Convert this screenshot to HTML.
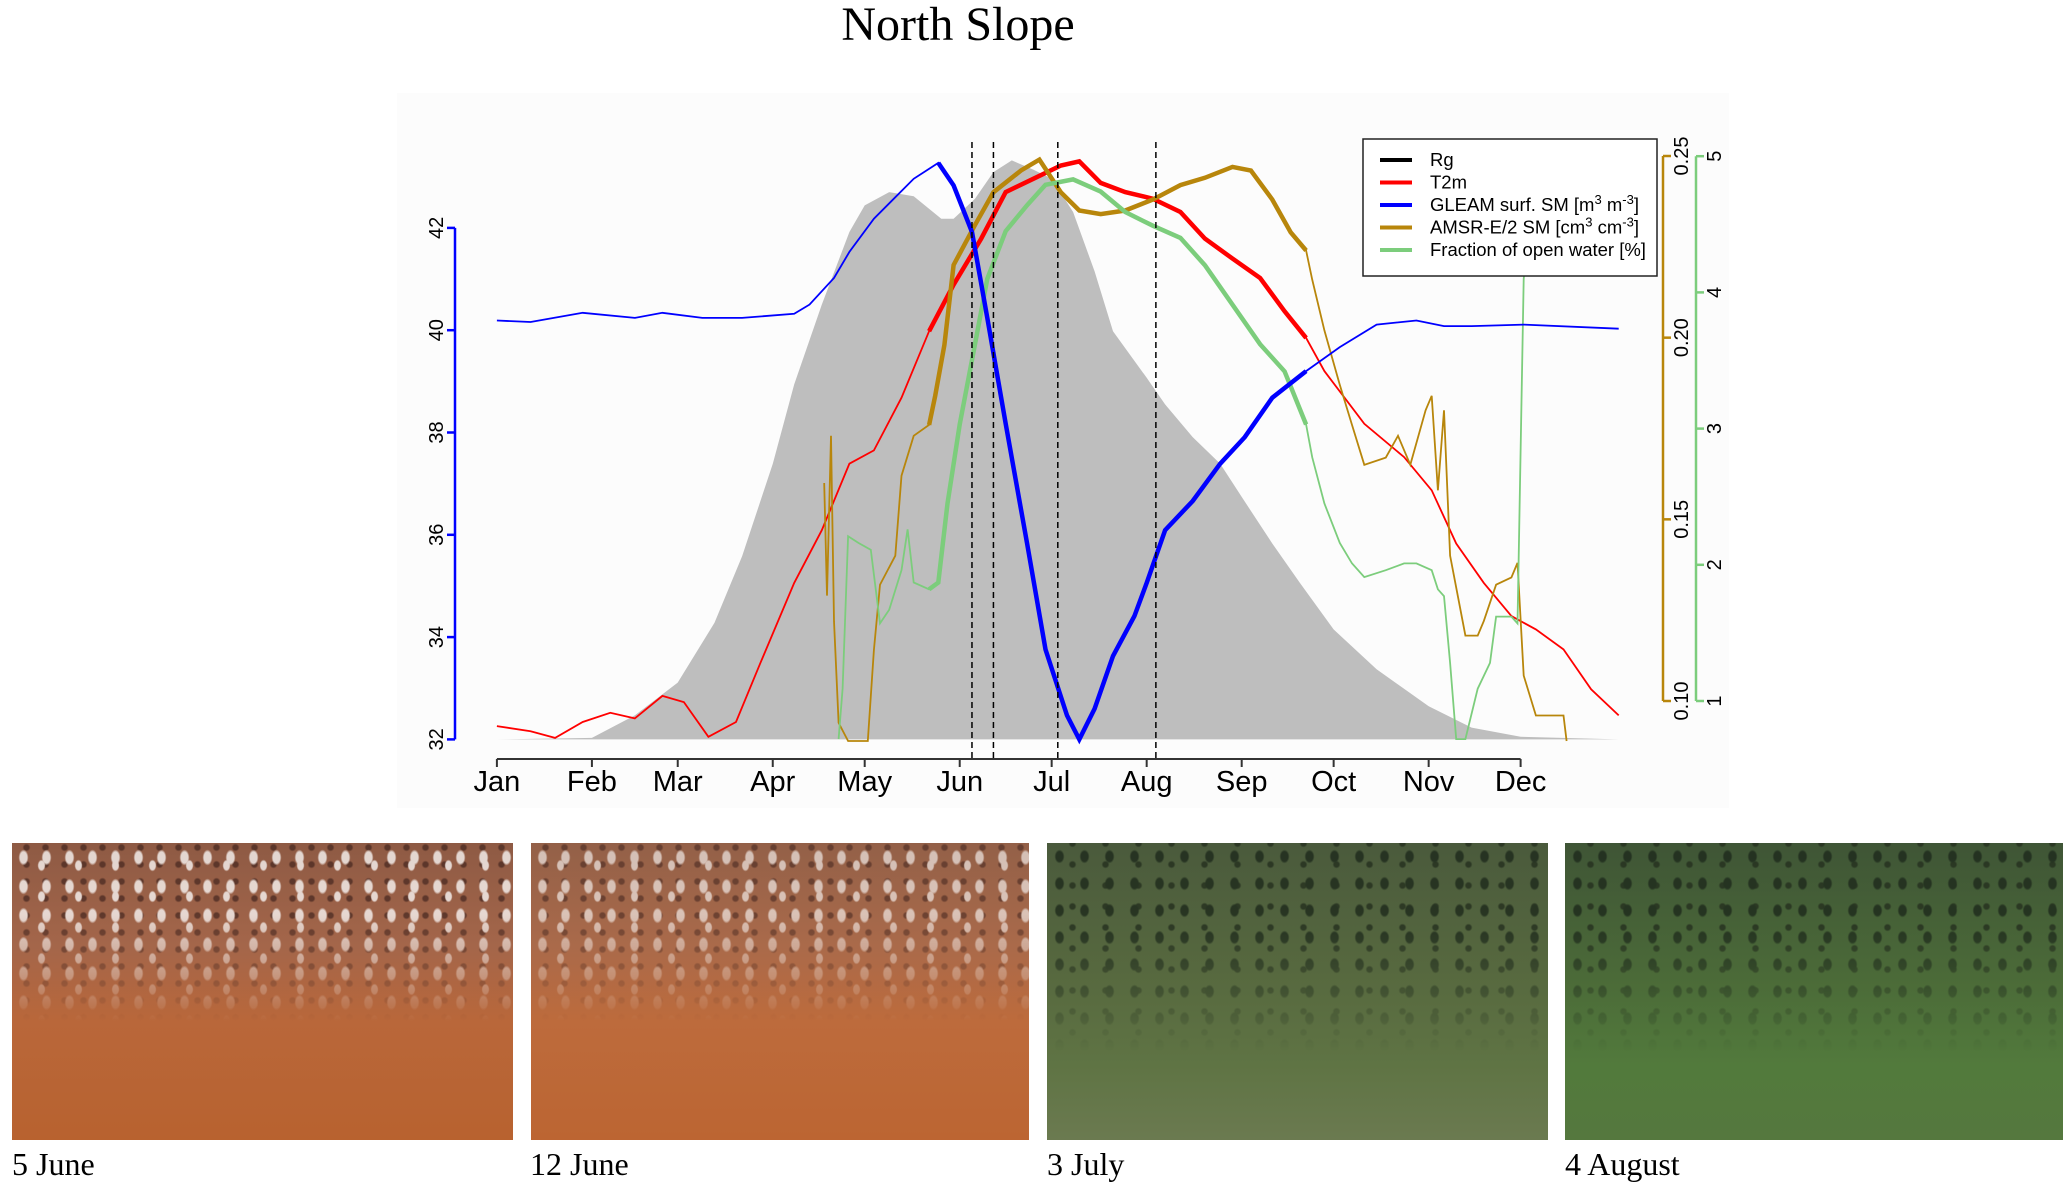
<!DOCTYPE html>
<html><head><meta charset="utf-8"><style>
html,body{margin:0;padding:0;background:#fff;width:2067px;height:1192px;overflow:hidden}
.photo{position:absolute;top:843px;height:297px;overflow:hidden}
.speck{position:absolute;left:0;top:0;width:100%;height:60%;background-image:radial-gradient(ellipse 5px 8px at 50% 50%,#fff 0 70%,transparent 100%),radial-gradient(ellipse 4px 6px at 50% 50%,#fff 0 70%,transparent 100%),radial-gradient(circle 4px at 50% 50%,#4a2a22 0 60%,transparent 100%);background-size:23px 29px,37px 31px,19px 17px;background-position:0 0,11px 7px,5px 13px;opacity:.75;-webkit-mask-image:linear-gradient(180deg,#000 0%,#000 40%,transparent 100%);mask-image:linear-gradient(180deg,#000 0%,#000 40%,transparent 100%)}
.dark{position:absolute;left:0;top:0;width:100%;height:70%;background-image:radial-gradient(ellipse 5px 7px at 50% 50%,#1e2a1c 0 70%,transparent 100%),radial-gradient(circle 4px at 50% 50%,#25301f 0 60%,transparent 100%);background-size:25px 27px,33px 21px;background-position:0 0,9px 11px;opacity:.8;-webkit-mask-image:linear-gradient(180deg,#000 0%,#000 40%,transparent 100%);mask-image:linear-gradient(180deg,#000 0%,#000 40%,transparent 100%)}
.cap{position:absolute;top:1146px;font-family:"Liberation Serif",serif;font-size:32px;color:#000}
</style></head><body>
<svg id="chart" width="2067" height="840" style="position:absolute;left:0;top:0" xmlns="http://www.w3.org/2000/svg" font-family="Liberation Sans, sans-serif">
<rect x="397" y="93" width="1332" height="715" fill="#fcfcfc"/>
<text x="958" y="40" text-anchor="middle" font-family="Liberation Serif, serif" font-size="48">North Slope</text>
<g id="plot"></g>
</svg>
<div class="photo" style="left:12px;width:501px;background:linear-gradient(180deg,#8e5a44 0%,#a4664a 35%,#b9673a 60%,#b8622f 100%)"><div class="speck"></div></div>
<div class="photo" style="left:531px;width:498px;background:linear-gradient(180deg,#936048 0%,#aa6a4a 35%,#bd6b3c 60%,#bc6532 100%)"><div class="speck" style="opacity:.6"></div></div>
<div class="photo" style="left:1047px;width:501px;background:linear-gradient(180deg,#4a5a3c 0%,#57693f 45%,#5f7444 75%,#6b7a50 100%)"><div class="dark"></div></div>
<div class="photo" style="left:1565px;width:498px;background:linear-gradient(180deg,#3f5536 0%,#4b6a38 45%,#527a3c 75%,#55783e 100%)"><div class="dark"></div></div>
<div class="cap" style="left:12px">5 June</div>
<div class="cap" style="left:530px">12 June</div>
<div class="cap" style="left:1047px">3 July</div>
<div class="cap" style="left:1565px">4 August</div>
<script>
const months=["Jan","Feb","Mar","Apr","May","Jun","Jul","Aug","Sep","Oct","Nov","Dec"];
const monthDoy=[0,31,59,90,120,151,181,212,243,273,304,334];
const leftTicks=[32,34,36,38,40,42];
const brownTicks=[0.10,0.15,0.20,0.25];
const greenTicks=[1,2,3,4,5];
const dashDoy=[155,162,183,215];
const rgDoy=[0,31,45,59,71,80,90,97,106,115,120,128,136,145,149,156,162,168,175,181,188,195,201,212,218,227,236,243,253,262,273,287,304,318,334,366];
const rgVal=[32,32.03,32.47,33.11,34.28,35.58,37.39,38.94,40.5,41.92,42.44,42.7,42.62,42.18,42.18,42.57,43.09,43.32,43.14,42.96,42.31,41.15,39.98,39.07,38.55,37.91,37.39,36.74,35.83,35.06,34.15,33.37,32.65,32.23,32.05,32];
const gleamDoy=[0,11,28,45,54,67,80,97,102,110,115,123,136,144,149,155,160,166,173,179,186,190,195,201,208,212,218,227,236,244,253,264,275,287,300,309,318,335,366];
const gleamVal=[40.19,40.16,40.34,40.24,40.34,40.24,40.24,40.32,40.5,41.02,41.53,42.18,42.96,43.27,42.83,41.92,40.24,38.17,35.83,33.76,32.47,32.0,32.6,33.63,34.41,35.06,36.09,36.66,37.39,37.91,38.68,39.2,39.67,40.11,40.19,40.08,40.08,40.11,40.03];
const t2mDoy=[0,11,19,28,37,45,54,61,69,78,86,97,106,115,123,132,141,149,158,166,175,184,190,197,205,214,223,231,240,249,257,264,270,283,296,305,313,322,331,339,348,357,366];
const t2mVal=[32.26,32.16,32.03,32.34,32.52,32.41,32.85,32.73,32.05,32.34,33.5,35.06,36.09,37.39,37.65,38.68,39.98,40.89,41.79,42.7,42.96,43.22,43.3,42.88,42.7,42.57,42.31,41.79,41.4,41.02,40.37,39.85,39.2,38.17,37.52,36.87,35.83,35.06,34.41,34.15,33.76,32.98,32.47];
const amsrDoy=[106.8,107.7,109,110,111.5,114.6,121,123,125,130,132,136,141,143,146,149,156,162,171,177,184,190,197,205,214,223,231,240,246,253,259,264,266,270,275,279,283,290,294,298,303,305,307,309,311,316,320,322,326,331,333,335,339,348,349];
const amsrVal=[0.160,0.129,0.173,0.122,0.094,0.089,0.089,0.114,0.132,0.140,0.162,0.173,0.176,0.184,0.198,0.220,0.231,0.240,0.246,0.249,0.240,0.235,0.234,0.235,0.238,0.242,0.244,0.247,0.246,0.238,0.229,0.224,0.216,0.202,0.187,0.176,0.165,0.167,0.173,0.165,0.180,0.184,0.158,0.180,0.140,0.118,0.118,0.122,0.132,0.134,0.138,0.107,0.096,0.096,0.089];
const waterDoy=[111.5,112.8,114.6,118,122,125,128,132,134,136,141,144,147,151,156,160,166,173,179,188,197,205,214,223,231,240,249,257,264,266,270,275,279,283,290,296,300,305,307,309,311,313,316,320,324,326,331,333,335,336];
const waterVal=[0.72,1.09,2.21,2.16,2.11,1.57,1.67,1.96,2.26,1.87,1.82,1.87,2.45,3.03,3.62,4.10,4.45,4.64,4.79,4.83,4.74,4.59,4.49,4.40,4.20,3.91,3.62,3.42,3.03,2.79,2.45,2.16,2.01,1.91,1.96,2.01,2.01,1.96,1.82,1.77,1.28,0.72,0.72,1.09,1.28,1.62,1.62,1.57,4.10,4.30];

const NS="http://www.w3.org/2000/svg";
const g=document.getElementById('plot');
const X=d=>496.9+d*3.065;
const YL=v=>739.4-(v-32)*51.15;
const YB=v=>701-(v-0.10)/0.15*545;
const YG=v=>701-(v-1)*136.2;
function mk(tag,attrs){const e=document.createElementNS(NS,tag);for(const k in attrs)e.setAttribute(k,attrs[k]);g.appendChild(e);return e;}
function pts(ds,vs,yf,lo,hi){let a=[];ds.forEach((d,i)=>{if(d>=lo&&d<=hi)a.push(X(d).toFixed(1)+","+yf(vs[i]).toFixed(1));});return a.join(" ");}

let ap=X(rgDoy[0])+","+YL(32)+" "+pts(rgDoy,rgVal,YL,-1,999)+" "+X(rgDoy[rgDoy.length-1])+","+YL(32);
let rg=mk('polygon',{points:ap,fill:'#bebebe',stroke:'none'});



const series=[
 ['t2m-line',t2mDoy,t2mVal,YL,'#ff0000'],
 ['amsr-sm-line',amsrDoy,amsrVal,YB,'#b8860b'],
 ['open-water-line',waterDoy,waterVal,YG,'#7ccd7c'],
 ['gleam-sm-line',gleamDoy,gleamVal,YL,'#0000ff']];
series.forEach(s=>{
 let p=mk('polyline',{points:pts(s[1],s[2],s[3],-1,999),fill:'none',stroke:s[4],'stroke-width':1.8});
 
 
 let t=mk('polyline',{points:pts(s[1],s[2],s[3],140,264),fill:'none',stroke:s[4],'stroke-width':4.5});
 
 
});
dashDoy.forEach(d=>{
 let l=mk('line',{x1:X(d),x2:X(d),y1:142,y2:760,stroke:'#000','stroke-width':1.5,'stroke-dasharray':'6,4'});
 
 
});
let xa=mk('line',{x1:X(0),x2:X(334),y1:759,y2:759,stroke:'#333','stroke-width':2});


months.forEach((m,i)=>{
 let tk=mk('line',{x1:X(monthDoy[i]),x2:X(monthDoy[i]),y1:759,y2:767,stroke:'#333','stroke-width':2});
 
 
 let t=mk('text',{x:X(monthDoy[i]),y:791,'text-anchor':'middle','font-size':29});
 t.textContent=m;
 
 
});
let la=mk('line',{x1:455,x2:455,y1:YL(42),y2:YL(32),stroke:'#0000ff','stroke-width':2.5});


leftTicks.forEach(v=>{
 let tk=mk('line',{x1:447,x2:455,y1:YL(v),y2:YL(v),stroke:'#0000ff','stroke-width':2.5});
 
 
 let t=mk('text',{x:0,y:0,'text-anchor':'middle','font-size':20,transform:`translate(443,${YL(v)}) rotate(-90)`});
 t.textContent=v;
 
 
});
let ba=mk('line',{x1:1663,x2:1663,y1:YB(0.25),y2:YB(0.10),stroke:'#b8860b','stroke-width':2.5});


brownTicks.forEach(v=>{
 let tk=mk('line',{x1:1663,x2:1671,y1:YB(v),y2:YB(v),stroke:'#b8860b','stroke-width':2.5});
 
 
 let t=mk('text',{x:0,y:0,'text-anchor':'middle','font-size':20,transform:`translate(1688,${YB(v)}) rotate(-90)`});
 t.textContent=v.toFixed(2);
 
 
});
let ga=mk('line',{x1:1696,x2:1696,y1:YG(5),y2:YG(1),stroke:'#7ccd7c','stroke-width':2.5});


greenTicks.forEach(v=>{
 let tk=mk('line',{x1:1696,x2:1704,y1:YG(v),y2:YG(v),stroke:'#7ccd7c','stroke-width':2.5});
 
 
 let t=mk('text',{x:0,y:0,'text-anchor':'middle','font-size':20,transform:`translate(1721,${YG(v)}) rotate(-90)`});
 t.textContent=v;
 
 
});
let lb=mk('rect',{x:1363,y:139,width:294,height:137,fill:'#fff',stroke:'#222','stroke-width':1.5});


const legNames=['Rg','T2m','GLEAM surf. SM [m<tspan dy="-7" font-size="13">3</tspan><tspan dy="7"> m</tspan><tspan dy="-7" font-size="13">-3</tspan><tspan dy="7">]</tspan>','AMSR-E/2 SM [cm<tspan dy="-7" font-size="13">3</tspan><tspan dy="7"> cm</tspan><tspan dy="-7" font-size="13">-3</tspan><tspan dy="7">]</tspan>','Fraction of open water [%]'];
const legCols=['#000','#ff0000','#0000ff','#b8860b','#7ccd7c'];
legNames.forEach((n,i)=>{
 const y=160+i*22.5;
 let l=mk('line',{x1:1380,x2:1412,y1:y,y2:y,stroke:legCols[i],'stroke-width':4});
 
 
 let t=mk('text',{x:1430,y:y+6,'font-size':18.5});
 t.innerHTML=n;
 
 
});
</script>
</body></html>
